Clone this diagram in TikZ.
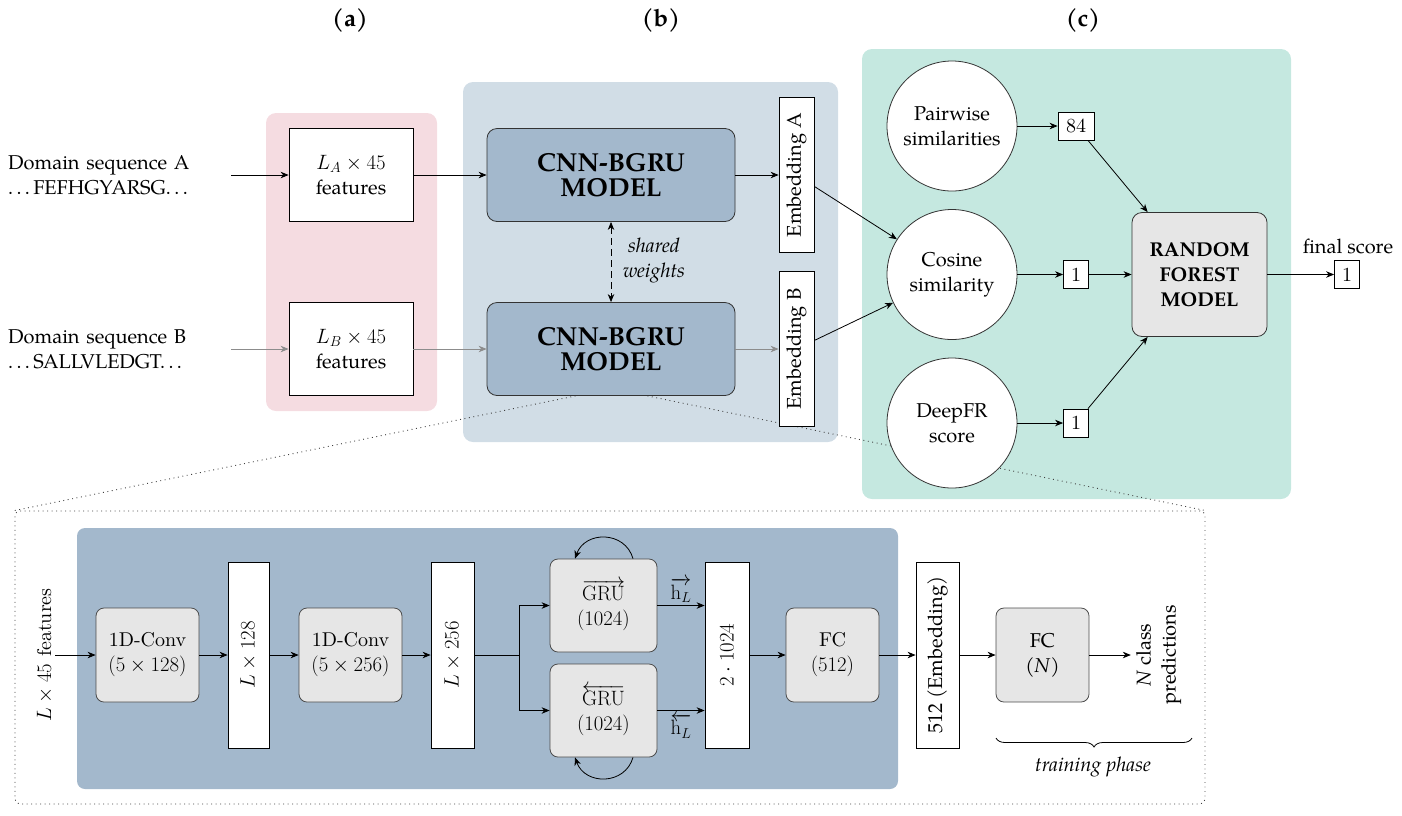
\documentclass[tikz,border=0pt]{standalone}
\usepackage[no-math]{fontspec}
\setmainfont{TeX Gyre Pagella}
\newfontfamily\lmten{lmroman10-regular.otf}
\usepackage{graphicx}
\usetikzlibrary{arrows.meta,calc,decorations.pathreplacing}
\definecolor{pinkbg}{HTML}{F5DCE1}
\definecolor{bluebg}{HTML}{D1DDE6}
\definecolor{greenbg}{HTML}{C5E8E0}
\definecolor{darkblue}{HTML}{A3B8CC}
\definecolor{boxgray}{HTML}{E6E6E6}
\definecolor{linegray}{HTML}{8C8C8C}
\newcommand\mydots{.\kern.17em.\kern.17em.}
\begin{document}
\begin{tikzpicture}[x=1pt,y=-1pt,
  >={Stealth[length=8pt,width=6.5pt,inset=2.5pt]},
  every node/.style={font=\fontsize{20}{25}\selectfont},
  lm/.style={font=\lmten\fontsize{20}{25}\selectfont},
  hdr/.style={font=\fontsize{24}{28}\selectfont\bfseries},
  region/.style={rounded corners=10pt, inner sep=0pt, draw=none},
  arr/.style={->, line width=0.8pt},
  plain/.style={line width=0.8pt},
  zoomline/.style={line width=0.9pt, black!75, dash pattern=on 0.9pt off 3.6pt},
  seq/.style={anchor=west, align=left, inner sep=0pt, text width=223pt},
  featbox/.style={draw, fill=white, line width=0.8pt, minimum width=124pt, minimum height=93pt, inner sep=0pt, align=center},
  cnnbox/.style={draw=black!80, fill=darkblue, line width=0.8pt, rounded corners=10pt, minimum width=248pt, minimum height=93pt, inner sep=0pt, align=center, font=\fontsize{26}{25}\selectfont\bfseries},
  bar/.style={draw, fill=white, line width=0.8pt, inner sep=0pt},
  circ/.style={circle, draw=black!80, fill=white, line width=0.8pt, minimum size=130pt, inner sep=0pt, align=center},
  nbox/.style={draw, fill=white, line width=0.8pt, inner sep=0pt, minimum height=28pt, minimum width=25pt},
  rfbox/.style={draw=black!80, fill=boxgray, line width=0.8pt, rounded corners=10pt, minimum width=135pt, minimum height=124pt, inner sep=0pt, align=center, font=\fontsize{20}{25}\selectfont\bfseries},
  gbox/.style={draw=black!70, fill=boxgray, line width=0.8pt, rounded corners=8pt, inner sep=0pt, align=center},
  brace/.style={decorate, decoration={brace, mirror, amplitude=9pt}, line width=0.8pt}
]
\useasboundingbox (0,0) rectangle (1402,815);

% background regions
\node[region, fill=pinkbg, minimum width=171pt, minimum height=298pt] (regA) at (351.5,262) {};
\node[region, fill=bluebg, minimum width=375pt, minimum height=360pt] (regB) at (650.5,262) {};
\node[region, fill=greenbg, minimum width=429pt, minimum height=450pt] (regC) at (1076.5,274) {};
\node[draw=black!75, line width=0.9pt, dash pattern=on 0.9pt off 3.6pt, rounded corners=5pt, minimum width=1190pt, minimum height=293pt, inner sep=0pt] (detail) at (610,657.5) {};
\node[region, fill=darkblue, rounded corners=8pt, minimum width=821pt, minimum height=261pt] (inner) at (487.5,658.5) {};

% zoom lines
\coordinate (zl) at (580,395);
\coordinate (zr) at (643,395);
\draw[zoomline] (zl) -- (detail.north west);
\draw[zoomline] (zr) -- (detail.north east);

% headers
\node[hdr] (ha) at (350,20) {(a)};
\node[hdr] (hb) at (661,20) {(b)};
\node[hdr] (hc) at (1083,20) {(c)};

% part (a)
\node[seq] (seqA) at (8,175) {Domain sequence A\\\mydots\kern.17em FEFHGYARSG\mydots};
\node[seq] (seqB) at (8,349) {Domain sequence B\\\mydots\kern.17em SALLVLEDGT\mydots};
\node[featbox] (fa) at (351,175) {$L_A\times 45$\\features};
\node[featbox] (fb) at (351,349) {$L_B\times 45$\\features};

% part (b)
\node[cnnbox] (cnnA) at (611,175) {CNN-BGRU\\MODEL};
\node[cnnbox] (cnnB) at (611,349) {CNN-BGRU\\MODEL};
\node[bar, minimum width=35pt, minimum height=155pt] (embA) at (796.5,175) {\rotatebox{90}{Embedding A}};
\node[bar, minimum width=35pt, minimum height=155pt] (embB) at (796.5,349) {\rotatebox{90}{Embedding B}};
\node[align=center, inner sep=0pt, font=\fontsize{20}{25}\selectfont\itshape] (shw) at (654,260) {shared\\weights};

% part (c)
\node[circ] (pw) at (952,126) {Pairwise\\similarities};
\node[circ] (cs) at (952,274.5) {Cosine\\similarity};
\node[circ] (dfr) at (952,423) {DeepFR\\score};
\node[nbox, minimum width=36pt, lm] (b84) at (1076,126) {84};
\node[nbox, lm] (b1c) at (1076,274.5) {1};
\node[nbox, lm] (b1d) at (1076,423) {1};
\node[rfbox] (rf) at (1199.5,274.5) {RANDOM\\FOREST\\MODEL};
\node[nbox, lm] (fs) at (1347,274.5) {1};
\node[inner sep=0pt] (fslab) at (1348,246) {final score};

% connectors top
\draw[arr] (seqA.east) -- (fa.west);
\draw[arr, linegray] (seqB.east) -- (fb.west);
\draw[arr] (fa) -- (cnnA);
\draw[arr, linegray] (fb) -- (cnnB);
\draw[arr] (cnnA) -- (embA);
\draw[arr, linegray] (cnnB) -- (embB);
\draw[<->, line width=0.8pt, dash pattern=on 7pt off 4pt] (cnnA) -- (cnnB);
\draw[arr] (embA) -- (cs);
\draw[arr] (embB) -- (cs);
\draw[arr] (pw) -- (b84);
\draw[arr] (cs) -- (b1c);
\draw[arr] (dfr) -- (b1d);
\draw[arr] (b84) -- (rf);
\draw[arr] (b1c) -- (rf);
\draw[arr] (b1d) -- (rf);
\draw[arr] (rf) -- (fs);

% detail part
\node[lm, inner sep=2pt] (feat) at (45,655) {\rotatebox{90}{$L\times 45$ features}};
\node[gbox, lm, minimum width=103pt, minimum height=94pt] (c1) at (147.5,655) {1D-Conv\\$(5\times 128)$};
\node[bar, lm, minimum width=41pt, minimum height=186pt] (l128) at (248.5,655) {\rotatebox{90}{$L\times 128$}};
\node[gbox, lm, minimum width=103pt, minimum height=94pt] (c2) at (350.5,655) {1D-Conv\\$(5\times 256)$};
\node[bar, lm, minimum width=43pt, minimum height=186pt] (l256) at (452.5,655) {\rotatebox{90}{$L\times 256$}};
\coordinate (split) at (519,655);
\node[gbox, lm, minimum width=107pt, minimum height=93pt] (gf) at (603.5,605.5) {$\overrightarrow{\mathrm{GRU}}$\\$(1024)$};
\node[gbox, lm, minimum width=107pt, minimum height=93pt] (gb) at (603.5,710.5) {$\overleftarrow{\mathrm{GRU}}$\\$(1024)$};
\node[bar, lm, minimum width=44pt, minimum height=186pt] (cat) at (727,655) {\rotatebox{90}{$2\cdot 1024$}};
\node[gbox, lm, minimum width=93pt, minimum height=94pt] (fc1) at (832.5,655) {FC\\$(512)$};
\node[bar, minimum width=43pt, minimum height=186pt] (emb) at (937.5,655) {\rotatebox{90}{512 (Embedding)}};
\node[gbox, minimum width=93pt, minimum height=94pt] (fcn) at (1042.5,655) {FC\\(\textit{N})};
\node[inner sep=2pt] (pred) at (1158,655) {\rotatebox{90}{\begin{tabular}{@{}c@{}}\textit{N} class\\predictions\end{tabular}}};
\coordinate (brL) at (996,738);
\coordinate (brR) at (1192,738);
\node[inner sep=0pt, font=\fontsize{20}{25}\selectfont\itshape] (tp) at (1093,767) {training phase};

% detail connectors
\draw[arr] (feat) -- (c1);
\draw[arr] (c1) -- (l128);
\draw[arr] (l128) -- (c2);
\draw[arr] (c2) -- (l256);
\draw[plain] (l256) -- (split);
\draw[arr] (split) |- (gf.west);
\draw[arr] (split) |- (gb.west);
\draw[arr] (gf.east) -- node[lm, above, inner sep=3pt] (hf) {$\overrightarrow{\mathrm{h}_L}$} (gf.east -| cat.west);
\draw[arr] (gb.east) -- node[lm, below, inner sep=3pt] (hb2) {$\overleftarrow{\mathrm{h}_L}$} (gb.east -| cat.west);
\draw[arr] ([xshift=29.5pt]gf.north) .. controls +(-8,-28) and +(10,-28) .. ([xshift=-28.5pt]gf.north);
\draw[arr] ([xshift=29.5pt]gb.south) .. controls +(-8,28) and +(10,28) .. ([xshift=-28.5pt]gb.south);
\draw[arr] (cat) -- (fc1);
\draw[arr] (fc1) -- (emb);
\draw[arr] (emb) -- (fcn);
\draw[arr] (fcn) -- (pred);
\draw[brace] (brL) -- (brR);
\end{tikzpicture}
\end{document}
